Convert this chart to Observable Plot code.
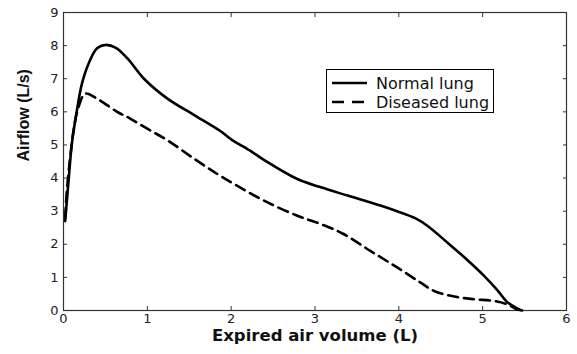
<!DOCTYPE html>
<html>
<head>
<meta charset="utf-8">
<script src="https://cdn.jsdelivr.net/npm/d3@7"></script>
<script src="https://cdn.jsdelivr.net/npm/@observablehq/plot@0.6"></script>
<style>
  html, body { margin: 0; padding: 0; background: #fff; }
  #wrap { position: relative; width: 577px; height: 354px; }
  #legend {
    position: absolute; left: 326px; top: 69px; width: 168px; height: 44px;
    border: 1px solid #000; background: #fff; box-sizing: border-box;
    font-family: "DejaVu Sans", sans-serif; font-size: 16px; color: #111;
  }
  #legend .row { position: absolute; left: 5px; height: 18px; display: flex; align-items: center; }
  #legend svg { margin-right: 8px; }
</style>
</head>
<body>
<div id="wrap">
  <div id="chart"></div>
  <div id="legend"></div>
</div>
<script>
// Normal lung flow-volume curve
const normalVolume = [0.02, 0.04, 0.063, 0.10, 0.16, 0.22, 0.30, 0.40, 0.50, 0.62, 0.76, 0.96, 1.24, 1.56, 1.87, 2.0, 2.23, 2.39, 2.79, 3.07, 3.39, 3.78, 4.02, 4.2, 4.34, 4.58, 4.82, 5.02, 5.18, 5.29, 5.43, 5.47];
const normalFlow   = [2.7, 3.3, 4.0, 5.04, 6.05, 6.85, 7.46, 7.92, 8.02, 7.94, 7.62, 7.0, 6.4, 5.9, 5.42, 5.17, 4.82, 4.55, 3.97, 3.72, 3.47, 3.17, 2.96, 2.78, 2.56, 2.05, 1.52, 1.04, 0.6, 0.26, 0.04, 0];

// Diseased lung flow-volume curve
const diseasedVolume = [0.02, 0.04, 0.08, 0.12, 0.18, 0.26, 0.40, 0.64, 0.80, 1.0, 1.24, 1.56, 1.83, 2.07, 2.39, 2.79, 3.07, 3.34, 3.66, 3.98, 4.26, 4.42, 4.66, 4.90, 5.13, 5.29, 5.41, 5.47];
const diseasedFlow   = [2.8, 3.62, 4.63, 5.44, 6.15, 6.55, 6.4, 6.0, 5.79, 5.49, 5.14, 4.58, 4.13, 3.77, 3.32, 2.86, 2.61, 2.31, 1.80, 1.30, 0.84, 0.59, 0.42, 0.34, 0.29, 0.19, 0.04, 0];

const seriesNames = ["Normal lung", "Diseased lung"];
const xTicks = [0, 1, 2, 3, 4, 5, 6];
const yTicks = [0, 1, 2, 3, 4, 5, 6, 7, 8, 9];
const xLabel = "Expired air volume (L)";
const yLabel = "Airflow (L/s)";

const normal = normalVolume.map((v, i) => ({v, f: normalFlow[i]}));
const diseased = diseasedVolume.map((v, i) => ({v, f: diseasedFlow[i]}));

const dash = "10,6";

const chart = Plot.plot({
  width: 577,
  height: 354,
  marginLeft: 63,
  marginRight: 11,
  marginTop: 12,
  marginBottom: 44,
  style: {fontFamily: "DejaVu Sans, sans-serif", fontSize: "13px", color: "#222", background: "#fff"},
  x: {domain: [0, 6]},
  y: {domain: [0, 9]},
  marks: [
    Plot.frame({stroke: "#333", strokeWidth: 1.2}),
    Plot.axisX(xTicks, {anchor: "bottom", tickSize: -4, tickPadding: 7, fontSize: 13, label: null, stroke: "#333"}),
    Plot.axisX(xTicks, {anchor: "top", tickSize: -4, tickFormat: () => "", label: null, stroke: "#333"}),
    Plot.axisY(yTicks, {anchor: "left", tickSize: -4, tickPadding: 9, fontSize: 13, label: null, stroke: "#333"}),
    Plot.axisY(yTicks, {anchor: "right", tickSize: -4, tickFormat: () => "", label: null, stroke: "#333"}),
    Plot.line(normal, {x: "v", y: "f", stroke: "#000", strokeWidth: 2.6, curve: "catmull-rom"}),
    Plot.line(diseased, {x: "v", y: "f", stroke: "#000", strokeWidth: 2.6, strokeDasharray: dash, curve: "catmull-rom"}),
    Plot.text([xLabel], {frameAnchor: "bottom", dy: 30, fontWeight: "bold", fontSize: 16.5, fill: "#111"}),
    Plot.text([yLabel], {frameAnchor: "left", rotate: -90, dx: -40, fontWeight: "bold", fontSize: 16, fontFamily: "Liberation Sans, Arial, sans-serif", fill: "#111"})
  ]
});
document.getElementById("chart").appendChild(chart);

// Legend
const legend = d3.select("#legend");
seriesNames.forEach((name, i) => {
  const row = legend.append("div").attr("class", "row").style("top", (i === 0 ? 4 : 23) + "px");
  const s = row.append("svg").attr("width", 36).attr("height", 10);
  s.append("line").attr("x1", 0).attr("x2", 35).attr("y1", 5).attr("y2", 5)
    .attr("stroke", "#000").attr("stroke-width", 2.6)
    .attr("stroke-dasharray", i === 0 ? null : "12,8");
  row.append("span").text(name);
});
</script>
</body>
</html>
